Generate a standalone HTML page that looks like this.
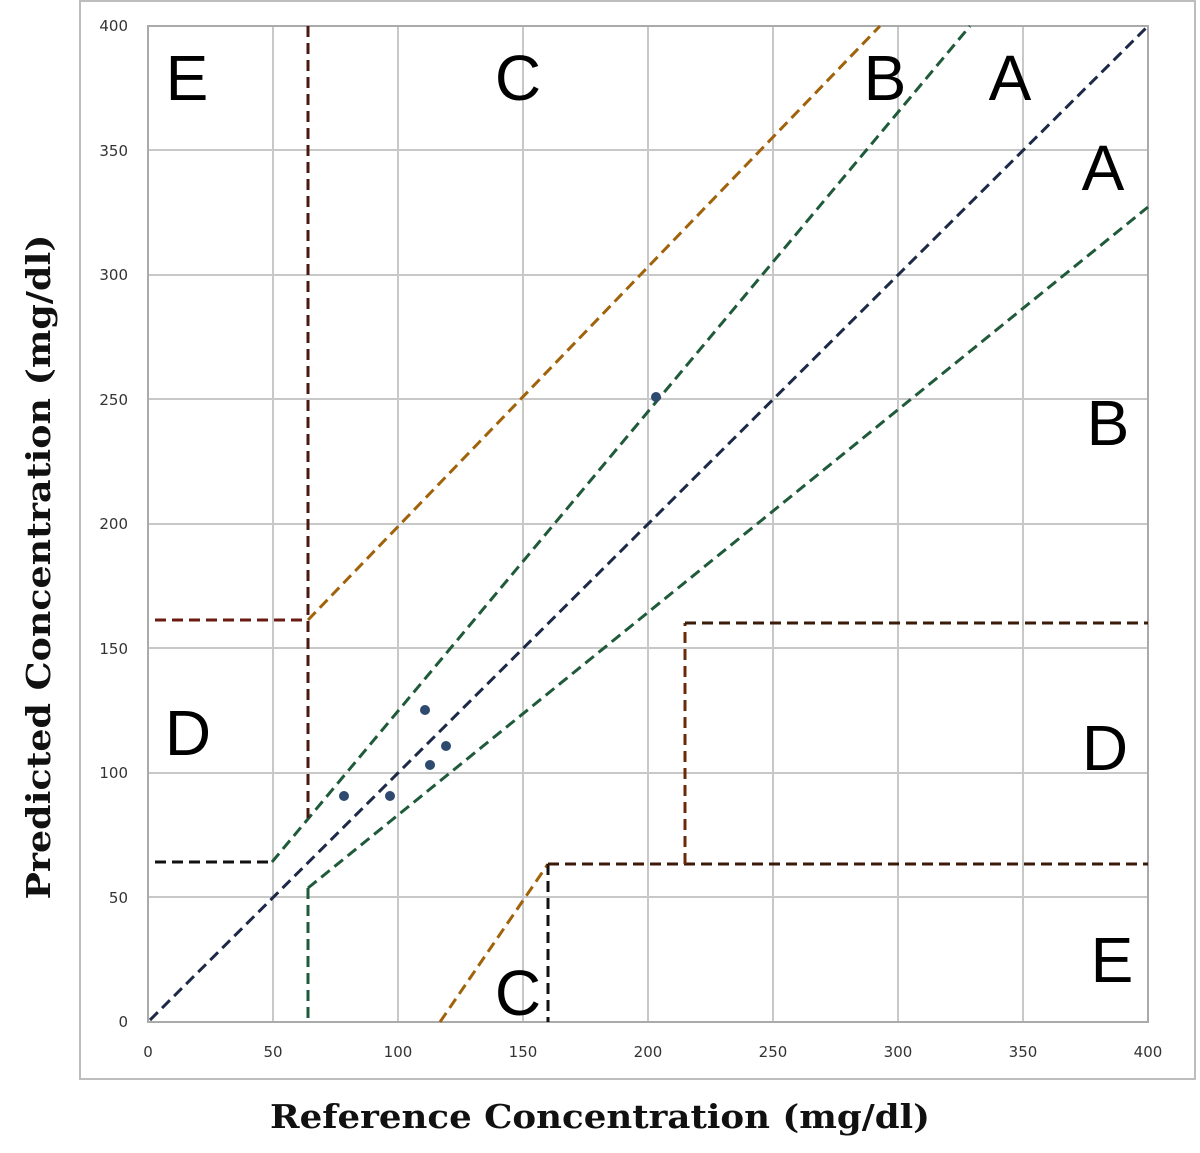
<!DOCTYPE html>
<html><head><meta charset="utf-8"><style>
html,body{margin:0;padding:0;background:#fff;}
svg{display:block;}
</style></head><body>
<svg width="1200" height="1153" viewBox="0 0 1200 1153" xmlns="http://www.w3.org/2000/svg">
<rect x="80" y="1" width="1115" height="1078" fill="#fff" stroke="#bdbdbd" stroke-width="2"/>
<g stroke="#c8c8c8" stroke-width="2">
<line x1="273" y1="26" x2="273" y2="1022"/><line x1="398" y1="26" x2="398" y2="1022"/>
<line x1="523" y1="26" x2="523" y2="1022"/><line x1="648" y1="26" x2="648" y2="1022"/>
<line x1="773" y1="26" x2="773" y2="1022"/><line x1="898" y1="26" x2="898" y2="1022"/>
<line x1="1023" y1="26" x2="1023" y2="1022"/>
<line x1="148" y1="150" x2="1148" y2="150"/><line x1="148" y1="275" x2="1148" y2="275"/>
<line x1="148" y1="399" x2="1148" y2="399"/><line x1="148" y1="524" x2="1148" y2="524"/>
<line x1="148" y1="648" x2="1148" y2="648"/><line x1="148" y1="773" x2="1148" y2="773"/>
<line x1="148" y1="897" x2="1148" y2="897"/>
</g>
<rect x="148" y="26" width="1000" height="996" fill="none" stroke="#aaa" stroke-width="2"/>
<g font-family="'DejaVu Sans', sans-serif" font-size="15" fill="#333" text-anchor="end">
<text x="128" y="31">400</text><text x="128" y="156">350</text><text x="128" y="280">300</text>
<text x="128" y="405">250</text><text x="128" y="529">200</text><text x="128" y="654">150</text>
<text x="128" y="778">100</text><text x="128" y="903">50</text><text x="128" y="1027">0</text>
</g>
<g font-family="'DejaVu Sans', sans-serif" font-size="15" fill="#333" text-anchor="middle">
<text x="148" y="1057">0</text><text x="273" y="1057">50</text><text x="398" y="1057">100</text>
<text x="523" y="1057">150</text><text x="648" y="1057">200</text><text x="773" y="1057">250</text>
<text x="898" y="1057">300</text><text x="1023" y="1057">350</text><text x="1148" y="1057">400</text>
</g>
<g fill="none" stroke-width="3" stroke-dasharray="11,6">
<line x1="150" y1="1020" x2="1146" y2="28" stroke="#1c2a48"/>
<line x1="155" y1="862" x2="272" y2="862" stroke="#111"/>
<line x1="272" y1="862" x2="970" y2="26" stroke="#1f5a3a"/>
<line x1="308" y1="888" x2="1148" y2="207" stroke="#1f5a3a"/>
<line x1="308" y1="888" x2="308" y2="1022" stroke="#1f5a3a"/>
<line x1="308" y1="26" x2="308" y2="818" stroke="#4a1a10"/>
<line x1="155" y1="620" x2="308" y2="620" stroke="#6a1a10"/>
<line x1="308" y1="620" x2="880" y2="26" stroke="#a0620a"/>
<line x1="440" y1="1022" x2="548" y2="864" stroke="#a0620a"/>
<line x1="548" y1="864" x2="548" y2="1022" stroke="#111"/>
<line x1="548" y1="864" x2="1148" y2="864" stroke="#3a1a08"/>
<line x1="685" y1="864" x2="685" y2="623" stroke="#6a2a08"/>
<line x1="685" y1="623" x2="1148" y2="623" stroke="#3a1a08"/>
</g>
<g fill="#2e4a6e">
<circle cx="344" cy="796" r="5"/><circle cx="390" cy="796" r="5"/><circle cx="425" cy="710" r="5"/>
<circle cx="430" cy="765" r="5"/><circle cx="446" cy="746" r="5"/><circle cx="656" cy="397" r="5"/>
</g>
<g font-family="'Liberation Sans', sans-serif" font-size="64" fill="#000" text-anchor="middle">
<text x="187" y="100">E</text><text x="518" y="100">C</text><text x="885" y="100">B</text>
<text x="1010" y="100">A</text><text x="1103" y="190">A</text><text x="1108" y="445">B</text>
<text x="188" y="755">D</text><text x="1105" y="770">D</text><text x="518" y="1015">C</text>
<text x="1112" y="982">E</text>
</g>
<g font-family="'DejaVu Serif', 'Liberation Serif', serif" font-weight="bold" font-size="33" fill="#111" text-anchor="middle">
<text x="600" y="1128" textLength="660" lengthAdjust="spacingAndGlyphs">Reference Concentration (mg/dl)</text>
<text transform="translate(50,567) rotate(-90)" x="0" y="0" textLength="665" lengthAdjust="spacingAndGlyphs">Predicted Concentration  (mg/dl)</text>
</g>
</svg>
</body></html>
